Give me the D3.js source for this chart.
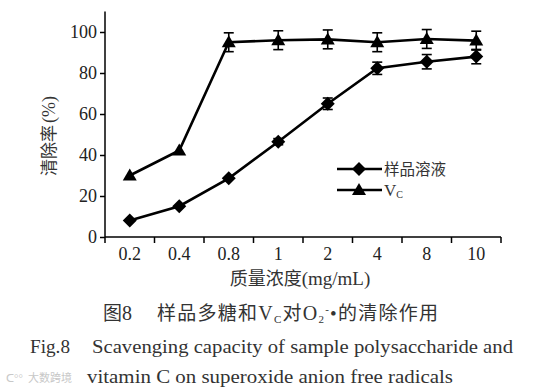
<!DOCTYPE html>
<html><head><meta charset="utf-8">
<script src="https://cdn.jsdelivr.net/npm/d3@7/dist/d3.min.js"></script>
<style>body{margin:0;background:#fff}</style>
</head><body>
<script>
const categories = ["0.2","0.4","0.8","1","2","4","8","10"];
const sampleValues = [8, 15, 28.6, 46.5, 65, 82.3, 85.5, 88];
const sampleErrors = [1, 1, 1.2, 1.5, 2.8, 3, 3.5, 3.5];
const vcValues = [30, 42.2, 95, 96, 96.4, 95, 96.6, 95.8];
const vcErrors = [1, 1.2, 4.6, 4.6, 4.6, 4.6, 4.6, 4.6];
const yTicks = [0, 20, 40, 60, 80, 100];
const seriesNames = ["样品溶液", "V"];

const W = 551, H = 392;
const svg = d3.select("body").append("svg").attr("width", W).attr("height", H);
const serif = "'Liberation Serif','DejaVu Serif',serif";
const cjk = "'Noto Sans CJK SC',sans-serif";

const x = d3.scaleBand().domain(categories).range([105, 501]);
const y = d3.scaleLinear().domain([0, 100]).range([237, 32]);

const g = svg.append("g");
// y axis
const ya = g.append("g").attr("transform", "translate(105,0)")
  .call(d3.axisLeft(y).tickValues(yTicks).tickSize(5).tickPadding(3));
ya.select(".domain").remove();
ya.selectAll("line").attr("stroke", "#000").attr("stroke-width", 1.5);
ya.selectAll("text").attr("font-family", serif).attr("font-size", 18).attr("fill", "#222");
g.append("line").attr("x1", 105).attr("x2", 105).attr("y1", y(110)).attr("y2", y(0))
  .attr("stroke", "#000").attr("stroke-width", 1.5);
// x axis
const xa = g.append("g").attr("transform", "translate(0,237)")
  .call(d3.axisBottom(x).tickSize(0).tickPadding(10));
xa.select(".domain").remove();
xa.selectAll("text").attr("font-family", serif).attr("font-size", 18).attr("fill", "#222");
g.append("line").attr("x1", x.range()[0]).attr("x2", x.range()[1]).attr("y1", 237).attr("y2", 237)
  .attr("stroke", "#000").attr("stroke-width", 1.5);
const bounds = categories.map(c => x(c)).concat([x.range()[1]]);
g.selectAll(".xt").data(bounds).enter().append("line")
  .attr("x1", d => d).attr("x2", d => d).attr("y1", 237).attr("y2", 243)
  .attr("stroke", "#000").attr("stroke-width", 1.5);

// titles
const yt = svg.append("text").attr("transform", "translate(55,136) rotate(-90)")
  .attr("text-anchor", "middle").attr("font-family", cjk).attr("font-size", 17).attr("fill", "#333");
yt.append("tspan").text("清除率");
yt.append("tspan").attr("font-family", serif).attr("font-size", 18).attr("dx", 2).text("(%)");
const xt = svg.append("text").attr("x", 300).attr("y", 285).attr("text-anchor", "middle")
  .attr("font-family", cjk).attr("font-size", 18).attr("fill", "#333");
xt.append("tspan").text("质量浓度");
xt.append("tspan").attr("font-family", serif).attr("font-size", 19).text("(mg/mL)");

const cx = c => x(c) + x.bandwidth() / 2;
const line = d3.line().x(d => cx(d.c)).y(d => y(d.v));
const diamond = "M0,-7L7,0L0,7L-7,0Z";
const tri = "M0,-7L7,5L-7,5Z";

function drawSeries(vals, errs, sym) {
  const data = categories.map((c, i) => ({c, v: vals[i], e: errs[i]}));
  g.append("path").datum(data).attr("d", line).attr("fill", "none")
    .attr("stroke", "#000").attr("stroke-width", 2.6);
  const eb = g.append("g");
  data.forEach(d => {
    if (d.e < 1.5) return;
    const xc = cx(d.c);
    eb.append("line").attr("x1", xc).attr("x2", xc).attr("y1", y(d.v + d.e)).attr("y2", y(d.v - d.e))
      .attr("stroke", "#000").attr("stroke-width", 1.6);
    [d.v + d.e, d.v - d.e].forEach(v => eb.append("line").attr("x1", xc - 5).attr("x2", xc + 5)
      .attr("y1", y(v)).attr("y2", y(v)).attr("stroke", "#000").attr("stroke-width", 1.6));
  });
  g.selectAll(null).data(data).enter().append("path")
    .attr("d", sym).attr("transform", d => `translate(${cx(d.c)},${y(d.v)})`).attr("fill", "#000");
}
drawSeries(vcValues, vcErrors, tri);
drawSeries(sampleValues, sampleErrors, diamond);

// legend
const lg = svg.append("g");
[[169, diamond, seriesNames[0]], [190, tri, seriesNames[1]]].forEach(([ly, sym, name], i) => {
  lg.append("line").attr("x1", 337).attr("x2", 382).attr("y1", ly).attr("y2", ly)
    .attr("stroke", "#000").attr("stroke-width", 2.6);
  lg.append("path").attr("d", sym).attr("transform", `translate(359,${ly})`).attr("fill", "#000");
  const t = lg.append("text").attr("x", 384).attr("y", ly + 6).attr("fill", "#333");
  if (i === 0) t.attr("font-family", cjk).attr("font-size", 15.5).text(name);
  else {
    t.attr("font-family", serif).attr("font-size", 17).text(name);
    t.append("tspan").attr("font-size", 10).attr("dy", 2).text("C");
  }
});

// captions
const cap0 = svg.append("text").attr("x", 103).attr("y", 320).attr("fill", "#333")
  .attr("font-family", cjk).attr("font-size", 19);
cap0.append("tspan").text("图");
cap0.append("tspan").attr("font-family", serif).attr("font-size", 20).text("8");
const cap = svg.append("text").attr("x", 157).attr("y", 320).attr("fill", "#333")
  .attr("font-family", cjk).attr("font-size", 19)
  .attr("textLength", 281).attr("lengthAdjust", "spacing");
cap.append("tspan").text("样品多糖和");
cap.append("tspan").attr("font-family", serif).attr("font-size", 20).text("V");
cap.append("tspan").attr("font-family", serif).attr("font-size", 11).attr("dy", 3).text("C");
cap.append("tspan").attr("dy", -3).text("对");
cap.append("tspan").attr("font-family", serif).attr("font-size", 20).text("O");
cap.append("tspan").attr("font-family", serif).attr("font-size", 11).attr("dy", 3).text("2");
cap.append("tspan").attr("font-family", serif).attr("font-size", 11).attr("dy", -10).text("-");
cap.append("tspan").attr("font-family", serif).attr("dy", 7).text("•");
cap.append("tspan").text("的清除作用");

svg.append("text").attr("x", 30).attr("y", 353).attr("fill", "#333")
  .attr("font-family", serif).attr("font-size", 19)
  .attr("textLength", 40).attr("lengthAdjust", "spacingAndGlyphs")
  .text("Fig.8");
svg.append("text").attr("x", 92).attr("y", 353).attr("fill", "#333")
  .attr("font-family", serif).attr("font-size", 19)
  .attr("textLength", 421).attr("lengthAdjust", "spacingAndGlyphs")
  .text("Scavenging capacity of sample polysaccharide and");
svg.append("text").attr("x", 87).attr("y", 383).attr("fill", "#333")
  .attr("font-family", serif).attr("font-size", 19)
  .attr("textLength", 366).attr("lengthAdjust", "spacingAndGlyphs")
  .text("vitamin C on superoxide anion free radicals");
svg.append("text").attr("x", 28).attr("y", 382).attr("fill", "#c8c8c8")
  .attr("font-family", cjk).attr("font-size", 11).text("大数跨境");
svg.append("text").attr("x", 6).attr("y", 382).attr("fill", "#c8c8c8")
  .attr("font-family", serif).attr("font-size", 11).text("ᑕ°°");
</script>
</body></html>
